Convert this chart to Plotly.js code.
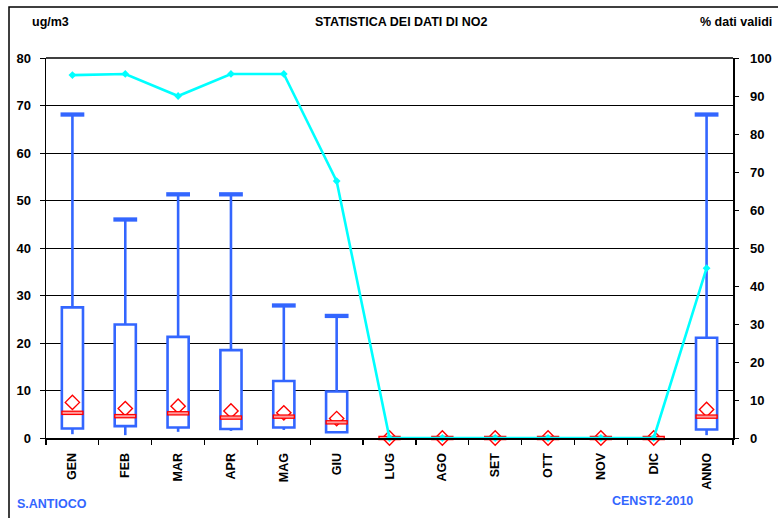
<!DOCTYPE html>
<html>
<head>
<meta charset="utf-8">
<script src="https://cdn.plot.ly/plotly-3.0.1.min.js"></script>
<style>html,body{margin:0;padding:0;background:#fff;}#chart{width:778px;height:518px;}</style>
</head>
<body>
<div id="chart"></div>
<script>
// ---- data ----
const categories = ['GEN','FEB','MAR','APR','MAG','GIU','LUG','AGO','SET','OTT','NOV','DIC','ANNO'];
const maxVal    = [68.1, 46.0, 51.3, 51.3, 27.9, 25.7, null, null, null, null, null, null, 68.1];
const q3Val     = [27.5, 23.9, 21.3, 18.5, 12.0,  9.8, null, null, null, null, null, null, 21.1];
const q1Val     = [ 2.0,  2.5,  2.2,  1.9,  2.2,  1.2, null, null, null, null, null, null,  1.8];
const minVal    = [ 0.8,  0.6,  1.3,  1.5,  1.7,  1.2, null, null, null, null, null, null,  0.6];
const medianVal = [ 5.3,  4.6,  5.2,  4.3,  4.5,  3.3, 0, 0, 0, 0, 0, 0, 4.5];
const meanVal   = [ 7.5,  6.2,  6.7,  5.7,  5.3,  4.1, 0, 0, 0, 0, 0, 0, 6.0];
const validPct  = [95.5, 95.8, 90.0, 95.8, 95.8, 67.6, 0, 0, 0, 0, 0, 0, 44.7];
const yLeftTicks  = [0,10,20,30,40,50,60,70,80];
const yRightTicks = [0,10,20,30,40,50,60,70,80,90,100];

// ---- styling ----
const BLUE = '#3366FF';
const RED = '#FF0000';
const CYAN = '#00FFFF';
const FONT = 'Arial, "Liberation Sans", sans-serif';
const W = 778, H = 518;
const M = {l: 46, r: 45, t: 58, b: 80};
const pw = W - M.l - M.r, ph = H - M.t - M.b;
const px = x => (x - M.l) / pw;
const py = y => (H - M.b - y) / ph;

// whisker segments
const wx = [], wy = [];
categories.forEach((c, i) => {
  if (maxVal[i] == null) return;
  wx.push(c, c, null, c, c, null);
  wy.push(q3Val[i], maxVal[i], null, minVal[i], q1Val[i], null);
});

const traces = [
  { // box body
    type: 'bar', x: categories, base: q1Val,
    y: q3Val.map((v, i) => v == null ? null : v - q1Val[i]),
    width: 0.4, marker: {color: '#FFFFFF', line: {color: BLUE, width: 2.6}},
    hoverinfo: 'skip', showlegend: false
  },
  { // whiskers
    type: 'scatter', mode: 'lines', x: wx, y: wy,
    line: {color: BLUE, width: 2.6}, hoverinfo: 'skip', showlegend: false
  },
  { // whisker caps (top)
    type: 'scatter', mode: 'markers', x: categories, y: maxVal,
    marker: {symbol: 'line-ew', size: 17, line: {color: BLUE, width: 4.3}},
    hoverinfo: 'skip', showlegend: false
  },
  { // mean
    type: 'scatter', mode: 'markers', x: categories, y: meanVal, cliponaxis: false,
    marker: {symbol: 'diamond-open', size: 11, color: RED, line: {color: RED, width: 1.4}},
    hoverinfo: 'skip', showlegend: false
  },
  { // median outer
    type: 'scatter', mode: 'markers', x: categories, y: medianVal, cliponaxis: false,
    marker: {symbol: 'line-ew', size: 16, line: {color: RED, width: 4.5}},
    hoverinfo: 'skip', showlegend: false
  },
  { // median inner
    type: 'scatter', mode: 'markers', x: categories, y: medianVal, cliponaxis: false,
    marker: {symbol: 'line-ew', size: 14, line: {color: '#FF9C9C', width: 2}},
    hoverinfo: 'skip', showlegend: false
  },
  { // % valid data
    type: 'scatter', mode: 'lines+markers', x: categories, y: validPct, yaxis: 'y2', cliponaxis: false,
    line: {color: CYAN, width: 2.6}, marker: {symbol: 'diamond', size: 6, color: CYAN},
    hoverinfo: 'skip', showlegend: false
  }
];

const tf = (s) => ({family: FONT, size: s, color: '#000', weight: 'bold'});

const layout = {
  width: W, height: H,
  margin: M,
  paper_bgcolor: '#FFFFFF', plot_bgcolor: '#FFFFFF',
  showlegend: false,
  barmode: 'overlay',
  font: {family: FONT, color: '#000'},
  xaxis: {
    type: 'category', categoryorder: 'array', categoryarray: categories,
    range: [-0.5, categories.length - 0.5],
    showgrid: false, zeroline: false,
    showline: true, linecolor: '#000', linewidth: 2, mirror: false,
    ticks: 'outside', tickson: 'boundaries', ticklen: 5, tickwidth: 1.2, tickcolor: '#000',
    tickangle: -90, tickfont: tf(12.5), ticklabelstandoff: 8,
    fixedrange: true
  },
  yaxis: {
    range: [0, 80], tickvals: yLeftTicks, ticktext: yLeftTicks.map(String),
    showgrid: true, gridcolor: '#000', gridwidth: 1, zeroline: false,
    showline: true, linecolor: '#000', linewidth: 1.5,
    ticks: 'outside', ticklen: 5, tickwidth: 1, tickcolor: '#000',
    tickfont: tf(13), ticklabelstandoff: 6, fixedrange: true
  },
  yaxis2: {
    overlaying: 'y', side: 'right', range: [0, 100],
    tickvals: yRightTicks, ticktext: yRightTicks.map(String),
    showgrid: false, zeroline: false,
    showline: true, linecolor: '#000', linewidth: 1.5,
    ticks: 'outside', ticklen: 4, tickwidth: 1, tickcolor: '#000',
    tickfont: tf(13), ticklabelstandoff: 9, fixedrange: true
  },
  shapes: [
    {type: 'rect', xref: 'paper', yref: 'paper',
     x0: px(9), x1: px(782), y0: py(522), y1: py(7),
     line: {color: '#000', width: 1.5}, fillcolor: 'rgba(0,0,0,0)', layer: 'below'},
    {type: 'line', xref: 'paper', yref: 'paper', x0: 0, x1: 1, y0: 1, y1: 1,
     line: {color: '#000', width: 1.5}}
  ],
  annotations: [
    {text: 'ug/m3', xref: 'paper', yref: 'paper', x: px(50), y: py(22), xanchor: 'center', yanchor: 'middle',
     showarrow: false, font: tf(12.5)},
    {text: 'STATISTICA DEI DATI DI NO2', xref: 'paper', yref: 'paper', x: px(402), y: py(22), xanchor: 'center', yanchor: 'middle',
     showarrow: false, font: tf(12.5)},
    {text: '% dati validi', xref: 'paper', yref: 'paper', x: px(774), y: py(22), xanchor: 'right', yanchor: 'middle',
     showarrow: false, font: tf(12.5)},
    {text: 'S.ANTIOCO', xref: 'paper', yref: 'paper', x: px(15), y: py(504), xanchor: 'left', yanchor: 'middle',
     showarrow: false, font: {family: FONT, size: 12.5, color: BLUE, weight: 'bold'}},
    {text: 'CENST2-2010', xref: 'paper', yref: 'paper', x: px(652), y: py(501), xanchor: 'center', yanchor: 'middle',
     showarrow: false, font: {family: FONT, size: 12.5, color: BLUE, weight: 'bold'}}
  ]
};

Plotly.newPlot('chart', traces, layout, {displayModeBar: false, staticPlot: true});
</script>
</body>
</html>
